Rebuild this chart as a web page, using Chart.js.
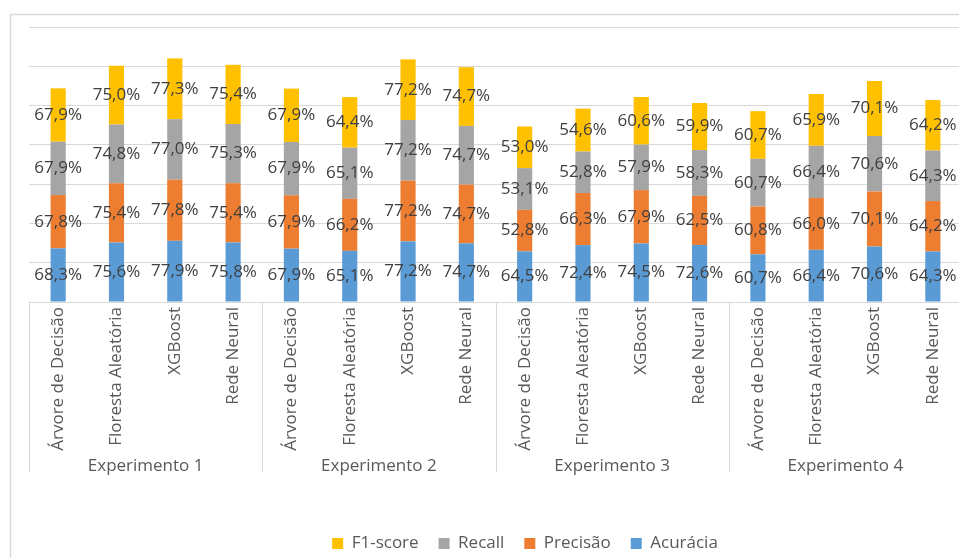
<!DOCTYPE html>
<html lang="pt">
<head>
<meta charset="UTF-8">
<title>Experimentos</title>
<script src="https://cdn.jsdelivr.net/npm/chart.js"></script>
<style>
    html, body {
        margin: 0;
        padding: 0;
        background: #fff;
        overflow: hidden;
    }
    #wrap {
        position: relative;
        width: 1050px;
        height: 562px;
    }
</style>
</head>
<body>
<div id="wrap"><canvas id="chart"></canvas></div>
<script>
    // dados
    const experimentos = ['Experimento 1', 'Experimento 2', 'Experimento 3', 'Experimento 4'];
    const modelos = ['Árvore de Decisão', 'Floresta Aleatória', 'XGBoost', 'Rede Neural'];
    const acuracia = [68.3, 75.6, 77.9, 75.8, 67.9, 65.1, 77.2, 74.7, 64.5, 72.4, 74.5, 72.6, 60.7, 66.4, 70.6, 64.3];
    const precisao = [67.8, 75.4, 77.8, 75.4, 67.9, 66.2, 77.2, 74.7, 52.8, 66.3, 67.9, 62.5, 60.8, 66.0, 70.1, 64.2];
    const recall   = [67.9, 74.8, 77.0, 75.3, 67.9, 65.1, 77.2, 74.7, 53.1, 52.8, 57.9, 58.3, 60.7, 66.4, 70.6, 64.3];
    const f1score  = [67.9, 75.0, 77.3, 75.4, 67.9, 64.4, 77.2, 74.7, 53.0, 54.6, 60.6, 59.9, 60.7, 65.9, 70.1, 64.2];
    const yTicks = [0, 50, 100, 150, 200, 250, 300, 350];

    const FONT = "'Open Sans', 'Noto Sans', sans-serif";
    const GRID = '#d9d9d9';

    const labels = [];
    experimentos.forEach(() => modelos.forEach(m => labels.push(m)));

    // rótulos de valor no meio de cada segmento
    const valueLabels = {
        id: 'valueLabels',
        afterDatasetsDraw(chart) {
            const ctx = chart.ctx;
            ctx.save();
            ctx.font = '17px ' + FONT;
            ctx.fillStyle = '#404040';
            ctx.textAlign = 'center';
            ctx.textBaseline = 'middle';
            chart.data.datasets.forEach((ds, i) => {
                const meta = chart.getDatasetMeta(i);
                meta.data.forEach((bar, j) => {
                    const txt = ds.data[j].toFixed(1).replace('.', ',') + '%';
                    ctx.fillText(txt, bar.x, (bar.y + bar.base) / 2);
                });
            });
            ctx.restore();
        }
    };

    // moldura, separadores e nomes dos experimentos
    const frameAndGroups = {
        id: 'frameAndGroups',
        beforeDraw(chart) {
            const ctx = chart.ctx;
            ctx.save();
            ctx.fillStyle = '#fff';
            ctx.fillRect(0, 0, chart.width, chart.height);
            ctx.strokeStyle = GRID;
            ctx.lineWidth = 1.5;
            ctx.beginPath();
            ctx.moveTo(10.5, chart.height);
            ctx.lineTo(10.5, 14.5);
            ctx.lineTo(chart.width, 14.5);
            ctx.stroke();
            ctx.restore();
        },
        afterDraw(chart) {
            const ctx = chart.ctx;
            const x = chart.scales.x;
            const w = x.width / labels.length;
            const top = chart.chartArea.bottom;
            ctx.save();
            ctx.strokeStyle = GRID;
            ctx.lineWidth = 1;
            for (let g = 0; g <= experimentos.length; g++) {
                const px = Math.round(x.left + g * modelos.length * w) + 0.5;
                ctx.beginPath();
                ctx.moveTo(px, top);
                ctx.lineTo(px, 472);
                ctx.stroke();
            }
            ctx.font = '17px ' + FONT;
            ctx.fillStyle = '#595959';
            ctx.textAlign = 'center';
            ctx.textBaseline = 'middle';
            experimentos.forEach((e, g) => {
                const cx = x.left + (g + 0.5) * modelos.length * w;
                ctx.fillText(e, cx, 466);
            });
            ctx.restore();
        }
    };

    new Chart(document.getElementById('chart'), {
        type: 'bar',
        data: {
            labels: labels,
            datasets: [
                { label: 'Acurácia', data: acuracia, backgroundColor: '#5B9BD5' },
                { label: 'Precisão', data: precisao, backgroundColor: '#ED7D31' },
                { label: 'Recall', data: recall, backgroundColor: '#A5A5A5' },
                { label: 'F1-score', data: f1score, backgroundColor: '#FFC000' }
            ]
        },
        options: {
            responsive: true,
            maintainAspectRatio: false,
            animation: false,
            datasets: {
                bar: { categoryPercentage: 1, barPercentage: 0.26 }
            },
            layout: { padding: { top: 27, left: 0, right: 0, bottom: 0 } },
            plugins: {
                legend: {
                    position: 'bottom',
                    reverse: true,
                    labels: {
                        boxWidth: 11,
                        boxHeight: 11,
                        padding: 20,
                        color: '#595959',
                        font: { family: FONT, size: 17 }
                    }
                },
                tooltip: { enabled: false }
            },
            scales: {
                x: {
                    stacked: true,
                    grid: { display: false, drawTicks: false },
                    border: { display: true, color: GRID, width: 1 },
                    ticks: {
                        minRotation: 90,
                        maxRotation: 90,
                        autoSkip: false,
                        padding: 5,
                        color: '#595959',
                        font: { family: FONT, size: 17 }
                    },
                    afterFit(s) { s.height = 213; }
                },
                y: {
                    stacked: true,
                    min: 0,
                    max: 350,
                    afterBuildTicks(s) { s.ticks = yTicks.map(v => ({ value: v })); },
                    grid: { color: GRID, drawTicks: false },
                    border: { display: false },
                    ticks: { display: false },
                    afterFit(s) { s.width = 29; }
                },
                y2: {
                    type: 'linear',
                    position: 'right',
                    display: true,
                    grid: { display: false, drawTicks: false },
                    border: { display: false },
                    ticks: { display: false },
                    afterFit(s) { s.width = 88; }
                }
            }
        },
        plugins: [frameAndGroups, valueLabels]
    });
</script>
</body>
</html>
